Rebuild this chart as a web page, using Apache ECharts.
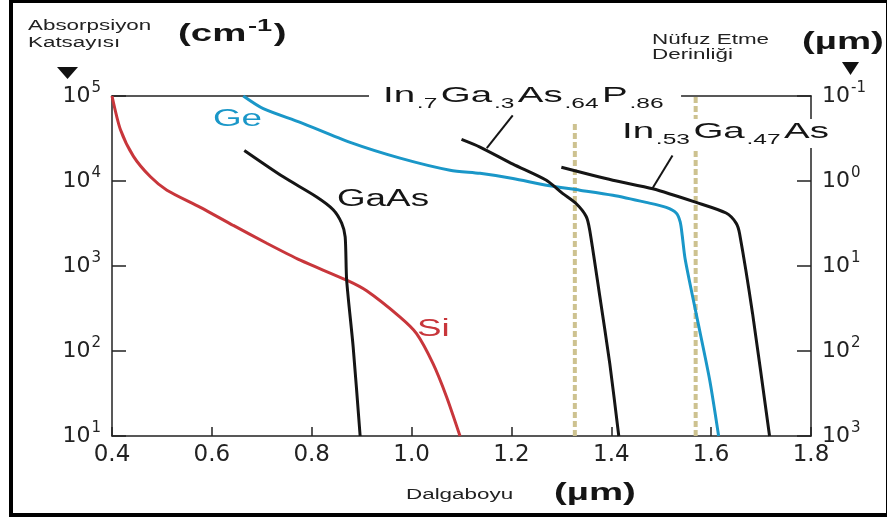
<!DOCTYPE html>
<html>
<head>
<meta charset="utf-8">
<title>Absorpsiyon Katsayısı</title>
<script src="https://cdn.jsdelivr.net/npm/echarts@6/dist/echarts.min.js"></script>
<style>
html, body { margin: 0; padding: 0; background: #fff; }
#main { width: 887px; height: 517px; }
</style>
</head>
<body>
<div id="main"></div>
<script>
// dalgaboyu (µm) - absorpsiyon katsayisi (cm-1)
var siX = [0.400, 0.417, 0.443, 0.477, 0.510, 0.577, 0.643, 0.710, 0.777, 0.870, 0.910, 0.977, 1.010, 1.043, 1.070, 1.097];
var siY = [100000, 40000, 19500, 11200, 7800, 4900, 3000, 1850, 1170, 680, 510, 250, 160, 71, 29, 10];

var gaasX = [0.665, 0.743, 0.810, 0.843, 0.860, 0.867, 0.870, 0.883, 0.897];
var gaasY = [22900, 11200, 6500, 4600, 3200, 2200, 680, 112, 10];

var geX = [0.663, 0.703, 0.777, 0.877, 0.977, 1.077, 1.137, 1.203, 1.270, 1.337, 1.403, 1.470, 1.510, 1.530, 1.538, 1.542, 1.548, 1.570, 1.597, 1.615];
var geY = [100000, 71000, 49000, 28500, 18600, 13400, 12300, 10700, 8900, 7800, 6800, 5600, 4900, 4200, 3300, 2300, 1200, 275, 46, 10];

var in7X = [1.100, 1.137, 1.203, 1.270, 1.303, 1.330, 1.350, 1.357, 1.377, 1.397, 1.415];
var in7Y = [30900, 25100, 15800, 10200, 7100, 5400, 3800, 2600, 440, 71, 10];

var in53X = [1.300, 1.403, 1.483, 1.570, 1.630, 1.650, 1.657, 1.683, 1.717];
var in53Y = [14500, 10200, 8100, 5600, 4200, 3200, 2400, 275, 10];

// kesikli dikey cizgiler
var dashX = [1.327, 1.569];
var dashTop = [50000, 100000];

// eksen etiketleri
var xLabels = ['0.4', '0.6', '0.8', '1.0', '1.2', '1.4', '1.6', '1.8'];
var alphaExp = ['1', '2', '3', '4', '5'];
var depthExp = ['3', '2', '1', '0', '-1'];

function pairs(xs, ys) {
    return xs.map(function (x, i) { return [x, ys[i]]; });
}

var black = '#151515';
var red = '#c8363b';
var blue = '#1a97c8';
var khaki = '#cdc290';
var axisColor = '#222';

var tickFont = 'DejaVu Sans';
var textFont = 'Liberation Sans';

// ust indis: parcalarin toplam yuksekligi esit tutuldu
var powRich = {
    b: { fontFamily: tickFont, fontSize: 22, lineHeight: 22, color: axisColor, padding: [6, 0, 6, 0] },
    s: { fontFamily: tickFont, fontSize: 15, lineHeight: 15, color: axisColor, padding: [2, 0, 17, 1] }
};

function expIndex(v) {
    return Math.round(Math.log(v) / Math.LN10) - 1;
}

// kimyasal formul etiketleri icin alt indis
var chemRich = {
    n: { fontFamily: textFont, fontSize: 22, lineHeight: 24, fill: black, padding: [0, 0, 4, 0] },
    s: { fontFamily: textFont, fontSize: 14, lineHeight: 14, fill: black, padding: [13, 2, 1, 1] }
};

var boldRich = {
    b: { fontFamily: textFont, fontSize: 24, fontWeight: 'bold', lineHeight: 28, fill: black, padding: [3, 0, 0, 0] },
    s: { fontFamily: textFont, fontSize: 17, fontWeight: 'bold', lineHeight: 17, fill: black, padding: [0, 1, 14, 1] }
};

function txt(x, y, text, size, color, sx, extra) {
    var el = {
        type: 'text', x: x, y: y, scaleX: sx || 1.6, z: 100,
        style: { text: text, fontFamily: textFont, fontSize: size, fill: color, lineHeight: size + 2 }
    };
    if (extra) {
        for (var k in extra) el.style[k] = extra[k];
    }
    return el;
}

function curve(name, xs, ys, color) {
    return {
        name: name,
        type: 'line',
        data: pairs(xs, ys),
        showSymbol: false,
        smooth: 0.25,
        lineStyle: { color: color, width: 3 },
        z: 5,
        silent: true
    };
}

function leader(a, b) {
    return {
        silent: true,
        symbol: ['none', 'none'],
        label: { show: false },
        lineStyle: { color: black, width: 2, type: 'solid' },
        data: [[{ coord: a }, { coord: b }]]
    };
}

var chart = echarts.init(document.getElementById('main'));

var series = [];
dashX.forEach(function (x, i) {
    series.push({
        type: 'line',
        data: [[x, 10], [x, dashTop[i]]],
        showSymbol: false,
        lineStyle: { color: khaki, width: 4, type: [6, 3] },
        z: 2,
        silent: true
    });
});
series.push(curve('Si', siX, siY, red));
series.push(curve('GaAs', gaasX, gaasY, black));
series.push(curve('Ge', geX, geY, blue));

var in7 = curve('In.7Ga.3As.64P.86', in7X, in7Y, black);
in7.markLine = leader([1.2026, 59300], [1.1506, 24300]);
series.push(in7);

var in53 = curve('In.53Ga.47As', in53X, in53Y, black);
in53.markLine = leader([1.5226, 20000], [1.4826, 8200]);
series.push(in53);

var option = {
    backgroundColor: '#fff',
    animation: false,
    grid: { left: 112, right: 76, top: 96, bottom: 81 },
    xAxis: [{
        type: 'value',
        min: 0.4,
        max: 1.8,
        interval: 0.2,
        axisLine: { lineStyle: { color: axisColor, width: 1.5 } },
        axisTick: { inside: true, length: 9, lineStyle: { color: axisColor, width: 1.5 } },
        splitLine: { show: false },
        axisLabel: {
            margin: 8,
            fontFamily: tickFont,
            fontSize: 23,
            color: axisColor,
            formatter: function (v) { return xLabels[Math.round((v - 0.4) / 0.2)]; }
        }
    }, {
        type: 'value',
        position: 'top',
        min: 0.4,
        max: 1.8,
        axisLine: { show: true, lineStyle: { color: axisColor, width: 1.5 } },
        axisTick: { show: false },
        axisLabel: { show: false },
        splitLine: { show: false }
    }],
    yAxis: [{
        type: 'log',
        logBase: 10,
        min: 10,
        max: 100000,
        axisLine: { show: true, lineStyle: { color: axisColor, width: 1.5 } },
        axisTick: { show: true, inside: true, length: 14, lineStyle: { color: axisColor, width: 1.5 } },
        splitLine: { show: false },
        axisLabel: {
            margin: 11,
            rich: powRich,
            formatter: function (v) { return '{b|10}{s|' + alphaExp[expIndex(v)] + '}'; }
        }
    }, {
        type: 'log',
        logBase: 10,
        min: 10,
        max: 100000,
        position: 'right',
        axisLine: { show: true, lineStyle: { color: axisColor, width: 1.5 } },
        axisTick: { show: true, inside: true, length: 14, lineStyle: { color: axisColor, width: 1.5 } },
        splitLine: { show: false },
        axisLabel: {
            margin: 11,
            rich: powRich,
            formatter: function (v) { return '{b|10}{s|' + depthExp[expIndex(v)] + '}'; }
        }
    }],
    series: series,
    graphic: [
        // cerceve
        { type: 'rect', z: 90, shape: { x: 11, y: 1, width: 877, height: 514 }, style: { fill: 'none', stroke: '#000', lineWidth: 4 } },
        // baslik ve birimler
        txt(28, 18, 'Absorpsiyon\nKatsayısı', 14, '#222', 1.6, { lineHeight: 17 }),
        txt(178, 19, '{b|(cm}{s|-1}{b|)}', 24, black, 1.6, { rich: boldRich }),
        { type: 'polygon', z: 100, shape: { points: [[57, 67], [78, 67], [67.5, 79]] }, style: { fill: '#111' } },
        txt(652, 33, 'Nüfuz Etme\nDerinliği', 14, '#222', 1.6, { lineHeight: 15 }),
        txt(802, 27, '{b|(µm)}', 24, black, 1.6, { rich: boldRich }),
        { type: 'polygon', z: 100, shape: { points: [[842, 62], [859, 62], [850.5, 75]] }, style: { fill: '#111' } },
        txt(406, 487, 'Dalgaboyu', 14, '#222', 1.6),
        txt(554, 478, '{b|(µm)}', 24, black, 1.6, { rich: boldRich }),
        // egri etiketleri
        txt(213, 107, 'Ge', 23, blue, 1.6, { lineHeight: 26 }),
        txt(337, 187, 'GaAs', 23, black, 1.6, { lineHeight: 26 }),
        txt(417, 317, 'Si', 23, red, 1.6, { lineHeight: 26 }),
        txt(369, 83, '{n|In}{s|.7}{n|Ga}{s|.3}{n|As}{s|.64}{n|P}{s|.86}', 22, black, 1.75,
            { rich: chemRich, backgroundColor: '#fff', padding: [3, 8, 3, 8] }),
        txt(615, 119, '{n|In}{s|.53}{n|Ga}{s|.47}{n|As}', 22, black, 1.75,
            { rich: chemRich, backgroundColor: '#fff', padding: [3, 4, 2, 4] })
    ]
};

chart.setOption(option);
</script>
</body>
</html>
